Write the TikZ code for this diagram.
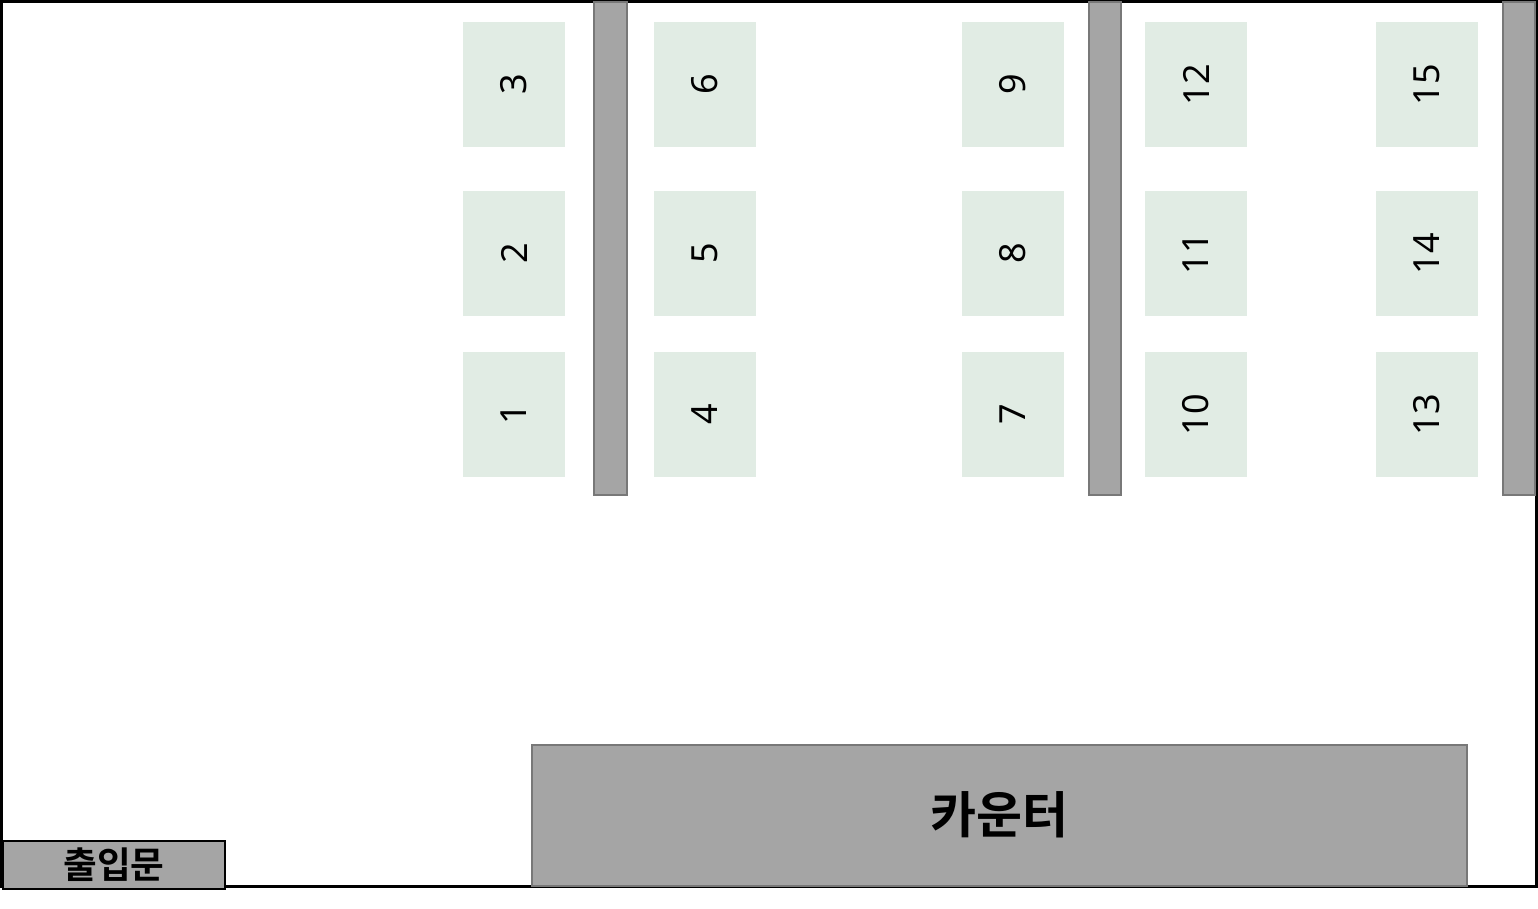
\documentclass[tikz,border=0pt]{standalone}
\usepackage{fontspec}
\setmainfont{Noto Sans}
\newfontfamily\krfont{Noto Sans CJK KR}[BoldFont={Noto Sans CJK KR Bold}]
\newcommand{\seatnum}[1]{\rotatebox{90}{\fontsize{27}{27}\selectfont\bfseries #1}}
\tikzset{
  x=0.75pt,y=-0.75pt,
  seat/.style={rectangle,fill=seatgreen,draw=none,inner sep=0pt,minimum width=76.5pt,minimum height=93.75pt},
  pillar/.style={rectangle,fill=wallgray,draw=edgegray,line width=1.5pt,inner sep=0pt},
  room/.style={rectangle,draw=black,line width=2.25pt,fill=white,inner sep=0pt},
  door/.style={rectangle,fill=wallgray,draw=black,line width=1.7pt,inner sep=0pt},
}
\definecolor{seatgreen}{HTML}{E1ECE4}
\definecolor{wallgray}{HTML}{A5A5A5}
\definecolor{edgegray}{HTML}{787878}
\begin{document}
\begin{tikzpicture}
\useasboundingbox (0,0) rectangle (1538,909);
\draw[black,line width=2.25pt,fill=white] (1.5,1.5) rectangle (1536.5,886);
% pillars
\node[pillar,minimum width=24.75pt,minimum height=369pt,anchor=north west] (p1) at (592.5,1.5) {};
\node[pillar,minimum width=24pt,minimum height=369pt,anchor=north west] (p2) at (1087.5,1.5) {};
\node[pillar,minimum width=24pt,minimum height=369pt,anchor=north west] (p3) at (1501.5,1.5) {};
% seats
\node[seat] (s1) at (514,414.5) {\seatnum{1}};
\node[seat] (s2) at (514,253.5) {\seatnum{2}};
\node[seat] (s3) at (514,84.5) {\seatnum{3}};
\node[seat] (s4) at (705,414.5) {\seatnum{4}};
\node[seat] (s5) at (705,253.5) {\seatnum{5}};
\node[seat] (s6) at (705,84.5) {\seatnum{6}};
\node[seat] (s7) at (1012.5,414.5) {\seatnum{7}};
\node[seat] (s8) at (1012.5,253.5) {\seatnum{8}};
\node[seat] (s9) at (1012.5,84.5) {\seatnum{9}};
\node[seat] (s10) at (1196,414.5) {\seatnum{10}};
\node[seat] (s11) at (1196,253.5) {\seatnum{11}};
\node[seat] (s12) at (1196,84.5) {\seatnum{12}};
\node[seat] (s13) at (1427,414.5) {\seatnum{13}};
\node[seat] (s14) at (1427,253.5) {\seatnum{14}};
\node[seat] (s15) at (1427,84.5) {\seatnum{15}};
% counter
\node[pillar,minimum width=701.25pt,minimum height=105.75pt,anchor=north west] (counter) at (530.5,743.5) {\krfont\bfseries\fontsize{37.5}{37.5}\selectfont 카운터};
% door
\node[door,minimum width=166.9pt,minimum height=36pt,anchor=north west] (doorway) at (1.5,840) {\krfont\bfseries\fontsize{27.5}{27.5}\selectfont 출입문};
\end{tikzpicture}
\end{document}
